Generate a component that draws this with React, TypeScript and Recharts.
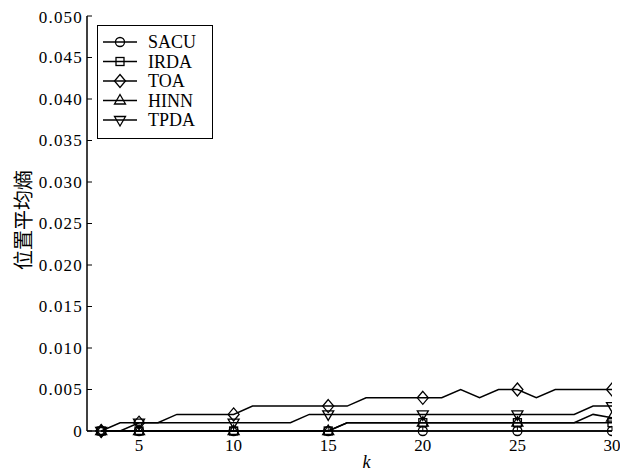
import React from 'react';
import { LineChart, Line, XAxis, YAxis } from 'recharts';

const ks = [3, 4, 5, 6, 7, 8, 9, 10, 11, 12, 13, 14, 15, 16, 17, 18, 19, 20, 21, 22, 23, 24, 25, 26, 27, 28, 29, 30];
const SACU = [0, 0, 0, 0, 0, 0, 0, 0, 0, 0, 0, 0, 0, 0, 0, 0, 0, 0, 0, 0, 0, 0, 0, 0, 0, 0, 0, 0];
const IRDA = [0, 0, 0, 0, 0, 0, 0, 0, 0, 0, 0, 0, 0, 0.001, 0.001, 0.001, 0.001, 0.001, 0.001, 0.001, 0.001, 0.001, 0.001, 0.001, 0.001, 0.001, 0.001, 0.001];
const TOA = [0, 0, 0.001, 0.001, 0.002, 0.002, 0.002, 0.002, 0.003, 0.003, 0.003, 0.003, 0.003, 0.003, 0.004, 0.004, 0.004, 0.004, 0.004, 0.005, 0.004, 0.005, 0.005, 0.004, 0.005, 0.005, 0.005, 0.005];
const HINN = [0, 0, 0, 0, 0, 0, 0, 0, 0, 0, 0, 0, 0, 0.001, 0.001, 0.001, 0.001, 0.001, 0.001, 0.001, 0.001, 0.001, 0.001, 0.001, 0.001, 0.001, 0.002, 0.0016];
const TPDA = [0, 0.001, 0.001, 0.001, 0.001, 0.001, 0.001, 0.001, 0.001, 0.001, 0.001, 0.002, 0.002, 0.002, 0.002, 0.002, 0.002, 0.002, 0.002, 0.002, 0.002, 0.002, 0.002, 0.002, 0.002, 0.002, 0.003, 0.003];
const markerKs = [3, 5, 10, 15, 20, 25, 30];
const xTicks = [5, 10, 15, 20, 25, 30];
const yTicks = [0, 0.005, 0.01, 0.015, 0.02, 0.025, 0.03, 0.035, 0.04, 0.045, 0.05];
const seriesNames = ['SACU', 'IRDA', 'TOA', 'HINN', 'TPDA'];
const seriesShapes = ['circle', 'square', 'diamond', 'up', 'down'];

const data = ks.map((k, i) => ({ k, SACU: SACU[i], IRDA: IRDA[i], TOA: TOA[i], HINN: HINN[i], TPDA: TPDA[i] }));

const SERIF = "'Liberation Serif', 'Times New Roman', serif";

function Marker({ shape, cx, cy }: { shape: string; cx: number; cy: number }) {
  const s = { fill: 'none', stroke: '#000', strokeWidth: 1.3 };
  switch (shape) {
    case 'circle':
      return <circle cx={cx} cy={cy} r={4.5} {...s} />;
    case 'square':
      return <rect x={cx - 4} y={cy - 4} width={8} height={8} {...s} />;
    case 'diamond':
      return <polygon points={`${cx},${cy - 6.5} ${cx + 5.5},${cy} ${cx},${cy + 6.5} ${cx - 5.5},${cy}`} {...s} />;
    case 'up':
      return <polygon points={`${cx},${cy - 6} ${cx + 5.5},${cy + 3.5} ${cx - 5.5},${cy + 3.5}`} {...s} />;
    default:
      return <polygon points={`${cx},${cy + 6} ${cx + 5.5},${cy - 3.5} ${cx - 5.5},${cy - 3.5}`} {...s} />;
  }
}

const makeDot = (shape: string) => (props: any) => {
  const { cx, cy, payload, index } = props;
  if (!markerKs.includes(payload.k)) return <g key={`d-${shape}-${index}`} />;
  return (
    <g key={`d-${shape}-${index}`}>
      <Marker shape={shape} cx={cx} cy={cy} />
    </g>
  );
};

const LegendBox = () => (
  <div style={{ position: 'absolute', left: 89, top: 17, width: 116, height: 114, border: '1.5px solid #000', background: '#fff', boxSizing: 'border-box' }}>
    <svg width={113} height={111} style={{ display: 'block' }}>
      {seriesNames.map((n, i) => {
        const y = 16 + i * 19.5;
        return (
          <g key={n}>
            <line x1={5} x2={39} y1={y} y2={y} stroke="#000" strokeWidth={1.5} />
            <Marker shape={seriesShapes[i]} cx={22} cy={y} />
            <text x={50} y={y} dominantBaseline="central" style={{ fontFamily: SERIF, fontSize: 18 }} fill="#000">{n}</text>
          </g>
        );
      })}
    </svg>
  </div>
);

const fmtY = (v: number) => (v === 0 ? '0' : v.toFixed(3));

const YTick = (p: any) => (
  <text x={p.x} y={p.y} textAnchor="end" dominantBaseline="central" fill="#000" style={{ fontFamily: SERIF, fontSize: 17, letterSpacing: 1.2 }}>
    {fmtY(p.payload.value)}
  </text>
);

const XTick = (p: any) => (
  <text x={p.x} y={p.y} textAnchor="middle" dy="0.71em" fill="#000" style={{ fontFamily: SERIF, fontSize: 17 }}>
    {p.payload.value}
  </text>
);

export default function App() {
  return (
    <div style={{ position: 'relative', width: 620, height: 465 }}>
      <LineChart width={620} height={465} data={data} margin={{ top: 8, right: 16, bottom: 12, left: 0 }}>
        <XAxis
          dataKey="k"
          type="number"
          domain={[2.25, 30]}
          ticks={xTicks}
          allowDataOverflow
          height={30}
          tickSize={-5}
          tickMargin={13}
          axisLine={{ stroke: '#000', strokeWidth: 1.5 }}
          tickLine={{ stroke: '#000', strokeWidth: 1 }}
          tick={<XTick />}
          label={(p: any) => {
            const vb = p.viewBox || {};
            return (
              <text x={vb.x + vb.width / 2 + 17} y={vb.y + 31} textAnchor="middle" dominantBaseline="central" style={{ fontFamily: SERIF, fontSize: 18, fontStyle: 'italic' }} fill="#000">k</text>
            );
          }}
        />
        <XAxis xAxisId="top" dataKey="k" type="number" domain={[2.25, 30]} orientation="top" height={0} tick={false} tickLine={false} axisLine={{ stroke: '#000', strokeWidth: 1.5 }} />
        <YAxis
          domain={[0, 0.05]}
          ticks={yTicks}
          width={79}
          tickSize={-5}
          tickMargin={9}
          axisLine={{ stroke: '#000', strokeWidth: 1.5 }}
          tickLine={{ stroke: '#000', strokeWidth: 1 }}
          tick={<YTick />}
          label={() => (
            <text x={14} y={212} textAnchor="middle" dominantBaseline="central" transform="rotate(-90 14 212)" style={{ fontFamily: "'Noto Sans CJK SC', sans-serif", fontSize: 20 }} fill="#000">位置平均熵</text>
          )}
        />
        <YAxis yAxisId="r" orientation="right" domain={[0, 0.05]} width={0} tick={false} tickLine={false} axisLine={{ stroke: '#000', strokeWidth: 1.5 }} />
        {seriesNames.map((n, i) => (
          <Line key={n} dataKey={n} type="linear" stroke="#000" strokeWidth={1.5} dot={makeDot(seriesShapes[i])} activeDot={false} isAnimationActive={false} />
        ))}
      </LineChart>
      <LegendBox />
    </div>
  );
}
